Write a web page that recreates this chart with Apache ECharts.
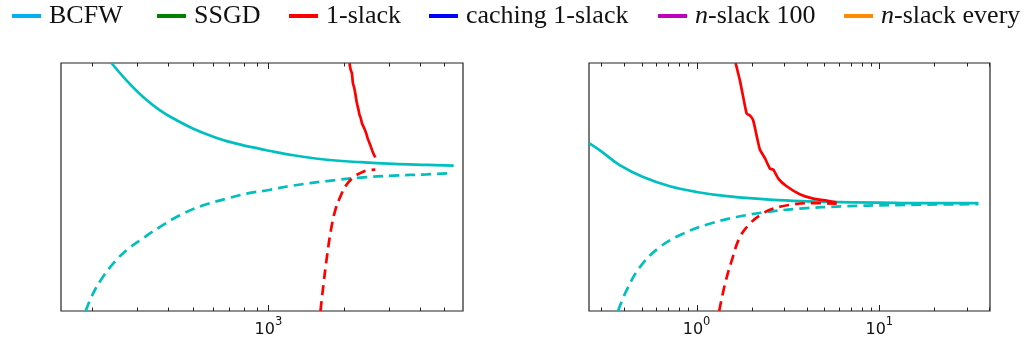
<!DOCTYPE html>
<html>
<head>
<meta charset="utf-8">
<script src="https://cdn.jsdelivr.net/npm/echarts@6/dist/echarts.min.js"></script>
<style>
html,body{margin:0;padding:0;background:#fff;}
#chart{width:1029px;height:345px;}
</style>
</head>
<body>
<div id="chart"></div>
<script>
// ---------- data ----------
const legendNames = ['BCFW', 'SSGD', '1-slack', 'caching 1-slack', 'n-slack 100', 'n-slack every'];

// left panel (x: log scale), y in arbitrary units (0..100 of the visible range)
const leftBcfwPrimal = [[238,100],[273,93.0],[318,86.3],[371,80.9],[432,76.9],[503,73.5],[586,70.8],[683,68.5],[795,66.8],[927,65.4],[1016,64.5],[1257,62.8],[1708,61.0],[2317,60.0],[3143,59.3],[4265,58.9],[5445,58.6]];
const leftBcfwDual = [[188,0],[201,7.0],[220,13.7],[245,19.8],[273,24.5],[309,28.5],[371,33.9],[445,38.6],[551,42.6],[683,45.3],[820,47.3],[1016,48.9],[1257,50.6],[1708,52.4],[2317,53.8],[3143,54.6],[4265,55.1],[5400,55.6]];
const leftSlackPrimal = [[2099,100],[2120,97.5],[2148,95.7],[2165,92.0],[2190,90.2],[2214,87.7],[2240,84.5],[2282,80.9],[2300,79.2],[2330,77.6],[2355,75.6],[2400,73.8],[2449,71.5],[2480,69.6],[2541,66.8],[2600,64.0],[2658,61.9]];
const leftSlackDual = [[1610,0],[1656,11.0],[1708,21.8],[1771,32.5],[1843,40.6],[1929,46.0],[2037,50.7],[2179,54.0],[2317,55.6],[2463,56.7],[2658,57.0]];

// right panel
const rightBcfwPrimal = [[0.258,67.7],[0.30,64.5],[0.38,58.8],[0.51,54.0],[0.714,50.3],[1.0,48.0],[1.46,46.3],[2.22,45.2],[3.38,44.4],[5.15,44.0],[10,43.7],[18.1,43.5],[34.8,43.5]];
const rightBcfwDual = [[0.372,0],[0.414,8.3],[0.49,17.7],[0.63,25.8],[0.845,31.2],[1.18,35.2],[1.655,37.9],[2.42,39.9],[3.67,41.3],[6.35,42.2],[11.9,42.7],[34.8,43.1]];
const rightSlackPrimal = [[1.635,100],[1.726,93.0],[1.80,86.3],[1.88,79.6],[1.957,78.9],[2.04,76.9],[2.13,70.8],[2.22,65.1],[2.37,61.5],[2.52,57.4],[2.63,57.0],[2.80,53.4],[3.11,50.3],[3.67,47.1],[4.35,45.3],[5.15,44.5],[5.84,43.8]];
const rightSlackDual = [[1.33,0],[1.43,10.8],[1.555,20.2],[1.726,29.8],[1.957,35.2],[2.22,38.6],[2.63,41.3],[3.38,43.0],[4.35,43.5],[5.84,43.3]];

// axis ranges and tick values
const leftXRange = [150, 5930];
const rightXRange = [0.258, 40.3];
const leftMajorTicks = [1000];
const leftMinorTicks = [200,300,400,500,600,700,800,900,2000,3000,4000,5000];
const rightMajorTicks = [1, 10];
const rightMinorTicks = [0.3,0.4,0.5,0.6,0.7,0.8,0.9,2,3,4,5,6,7,8,9,20,30,40];

// ---------- chart ----------
const CYAN = '#00BFBF', RED = '#FF0000';
const legendColors = {'BCFW':'#00B0F0','SSGD':'#008000','1-slack':'#FF0000','caching 1-slack':'#0000FF','n-slack 100':'#BF00BF','n-slack every':'#FF8C00'};
const legendLefts = [7, 152, 284, 424, 653, 839];

const chart = echarts.init(document.getElementById('chart'), null, {renderer:'canvas'});

function tickData(minor, major){
  return minor.map(v => [v, 0]).concat(major.map(v => [v, 1]));
}
function tickSeries(idx, minor, major){
  return {
    type:'custom', xAxisIndex: idx, yAxisIndex: idx, silent:true, clip:false, z: 10,
    data: tickData(minor, major),
    renderItem(params, api){
      const v = api.value(0), isMajor = api.value(1) === 1;
      const x = Math.round(api.coord([v, 0])[0]) + 0.5;
      const cs = params.coordSys;
      const len = isMajor ? 6 : 3.5;
      const st = {stroke:'#222', lineWidth:1};
      return {type:'group', children:[
        {type:'line', shape:{x1:x,y1:cs.y+cs.height,x2:x,y2:cs.y+cs.height-len}, style:st},
        {type:'line', shape:{x1:x,y1:cs.y,x2:x,y2:cs.y+len}, style:st}
      ]};
    }
  };
}
function lineSeries(name, idx, data, color, dashed, smooth){
  return {
    name, type:'line', xAxisIndex: idx, yAxisIndex: idx, data,
    showSymbol:false, symbol:'none', smooth: smooth || false, clip:true,
    lineStyle:{color, width:2.7, type: dashed ? [10,6] : 'solid'},
    itemStyle:{color}
  };
}
const labelFmt = function(v){
  const l = Math.log10(v), e = Math.round(l);
  if (Math.abs(l - e) > 1e-6) return '';
  return '{b|10}{s|' + e + '}';
};
const labelRich = {
  b:{fontFamily:'DejaVu Sans', fontSize:16, color:'#111', verticalAlign:'bottom', lineHeight:22},
  s:{fontFamily:'DejaVu Sans', fontSize:11.5, color:'#111', verticalAlign:'top', lineHeight:22}
};
function xAxis(idx, range){
  return {
    type:'log', logBase:10, gridIndex: idx, min: range[0], max: range[1],
    axisLine:{show:false}, axisTick:{show:false}, splitLine:{show:false}, minorTick:{show:false},
    axisLabel:{formatter: labelFmt, rich: labelRich, margin: 5, showMinLabel:true, showMaxLabel:true}
  };
}
function yAxis(idx){
  return {type:'value', gridIndex: idx, min:0, max:100, axisLine:{show:false}, axisTick:{show:false}, splitLine:{show:false}, axisLabel:{show:false}};
}

const legends = legendNames.map((name, i) => ({
  left: legendLefts[i], top: -2,
  data:[{name, itemStyle:{color: legendColors[name]}}],
  icon:'rect', itemWidth:29, itemHeight:4, selectedMode:false,
  formatter: n => n.startsWith('n-') ? '{i|n}{t|' + n.slice(1) + '}' : '{t|' + n + '}',
  textStyle:{
    color:'#111', fontFamily:'Liberation Serif', fontSize:26, padding:[0,0,0,3],
    rich:{
      t:{color:'#111', fontFamily:'Liberation Serif', fontSize:26},
      i:{color:'#111', fontFamily:'Liberation Serif', fontSize:26, fontStyle:'italic'}
    }
  }
}));

const option = {
  animation:false,
  backgroundColor:'#fff',
  legend: legends,
  grid:[
    {left:61, top:63, width:402, height:248, show:true, borderColor:'#222', borderWidth:1.2, backgroundColor:'transparent'},
    {left:589, top:63, width:401, height:248, show:true, borderColor:'#222', borderWidth:1.2, backgroundColor:'transparent'}
  ],
  xAxis:[xAxis(0, leftXRange), xAxis(1, rightXRange)],
  yAxis:[yAxis(0), yAxis(1)],
  series:[
    lineSeries('BCFW', 0, leftBcfwPrimal, CYAN, false, 0.4),
    lineSeries('BCFW', 0, leftBcfwDual, CYAN, true, 0.4),
    lineSeries('1-slack', 0, leftSlackPrimal, RED, false, 0.15),
    lineSeries('1-slack', 0, leftSlackDual, RED, true, 0.4),
    lineSeries('BCFW', 1, rightBcfwPrimal, CYAN, false, 0.4),
    lineSeries('BCFW', 1, rightBcfwDual, CYAN, true, 0.4),
    lineSeries('1-slack', 1, rightSlackPrimal, RED, false, 0.15),
    lineSeries('1-slack', 1, rightSlackDual, RED, true, 0.4),
    lineSeries('SSGD', 0, [], '#008000', false),
    lineSeries('caching 1-slack', 0, [], '#0000FF', false),
    lineSeries('n-slack 100', 0, [], '#BF00BF', false),
    lineSeries('n-slack every', 0, [], '#FF8C00', false),
    tickSeries(0, leftMinorTicks, leftMajorTicks),
    tickSeries(1, rightMinorTicks, rightMajorTicks)
  ]
};
chart.setOption(option);
</script>
</body>
</html>
